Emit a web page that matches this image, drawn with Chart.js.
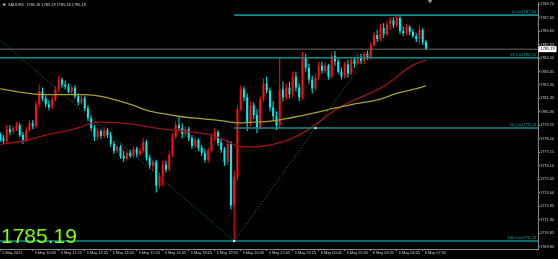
<!DOCTYPE html>
<html><head><meta charset="utf-8">
<script src="https://cdn.jsdelivr.net/npm/chart.js@4.4.0/dist/chart.umd.min.js"></script>
<style>html,body{margin:0;padding:0;background:#000;overflow:hidden}canvas{display:block}</style>
</head><body>
<canvas id="c" width="558" height="259"></canvas>
<script>
// ---- data ----
const symbolText = "XAUUSD  1785.18 1785.19 1785.18 1785.19";
const bidPrice = 1785.19;

const opens = [1778.57,1778.26,1778.03,1778.96,1778.73,1779.03,1779.27,1778.49,1778.11,1778.88,
1779.42,1779.19,1780.89,1781.89,1781.35,1780.89,1780.66,1781.27,1782.05,1782.82,
1782.43,1782.28,1781.89,1782.20,1781.51,1781.04,1781.35,1780.58,1779.81,1779.03,
1778.34,1778.80,1778.42,1778.88,1778.49,1777.80,1777.26,1777.57,1776.87,1776.64,
1777.10,1776.87,1777.41,1777.03,1777.26,1777.95,1776.72,1776.10,1776.41,1774.55,
1775.33,1776.18,1775.79,1776.95,1778.34,1779.27,1779.03,1778.57,1778.96,1778.26,
1777.64,1778.11,1777.49,1777.10,1776.56,1777.26,1778.34,1778.73,1777.88,1777.34,
1776.41,1777.80,1773.01,1775.25,1780.50,1782.05,1781.43,1779.42,1780.81,1780.04,
1779.11,1781.27,1782.51,1781.97,1780.66,1779.96,1779.27,1782.05,1781.43,1782.20,
1781.66,1783.05,1782.20,1781.43,1784.52,1783.75,1782.82,1782.12,1782.97,1783.90,
1783.51,1783.90,1783.05,1784.67,1784.21,1783.44,1783.05,1783.98,1783.28,1784.36,
1784.05,1784.59,1784.29,1784.83,1784.52,1785.52,1786.29,1785.98,1786.83,1786.37,
1787.14,1787.45,1787.06,1787.61,1786.60,1786.45,1786.91,1786.53,1786.22,1785.98,
1786.68,1785.75];
const highs = [1778.73,1778.49,1779.27,1779.27,1779.19,1779.50,1779.42,1778.73,1779.11,1779.65,
1779.65,1781.12,1782.43,1782.20,1781.58,1781.20,1781.51,1782.28,1783.13,1782.97,
1782.74,1782.51,1782.36,1782.36,1781.74,1781.58,1781.51,1780.81,1780.04,1779.27,
1779.03,1778.96,1779.11,1779.03,1778.73,1778.03,1777.72,1777.72,1777.26,1777.26,
1777.34,1777.64,1777.57,1777.49,1778.26,1778.11,1776.95,1776.56,1776.56,1775.56,
1776.49,1776.49,1777.26,1778.65,1779.58,1779.96,1779.42,1779.19,1779.11,1778.49,
1778.34,1778.26,1777.72,1777.41,1777.49,1778.65,1779.03,1778.88,1778.19,1777.57,
1778.11,1778.03,1775.71,1780.81,1782.36,1782.28,1781.74,1781.12,1781.04,1780.50,
1781.51,1782.90,1783.05,1782.20,1781.12,1780.35,1784.59,1782.66,1782.51,1782.66,
1783.44,1783.44,1782.51,1784.98,1784.83,1784.05,1783.13,1783.28,1784.21,1784.21,
1784.13,1784.05,1784.98,1785.06,1784.44,1783.75,1784.21,1784.36,1784.59,1784.59,
1784.83,1784.83,1784.98,1785.06,1785.75,1786.53,1786.68,1787.14,1787.22,1787.37,
1787.68,1787.68,1787.84,1787.76,1786.99,1787.14,1787.06,1786.76,1786.45,1787.06,
1786.83,1785.91];
const lows = [1777.95,1777.80,1777.88,1778.49,1778.57,1778.80,1778.34,1777.80,1777.95,1778.73,
1778.96,1779.03,1780.66,1781.12,1780.66,1780.43,1780.50,1781.12,1781.89,1782.20,
1782.05,1781.74,1781.66,1781.35,1780.81,1780.89,1780.35,1779.58,1778.80,1778.03,
1778.11,1778.19,1778.26,1778.26,1777.57,1777.03,1777.10,1776.64,1776.41,1776.49,
1776.72,1776.72,1776.79,1776.87,1777.10,1776.49,1775.87,1775.71,1774.02,1774.32,
1774.48,1775.56,1775.64,1776.79,1778.19,1778.80,1778.26,1778.42,1778.03,1777.41,
1777.49,1777.26,1776.87,1776.33,1776.33,1777.10,1778.03,1777.64,1777.10,1776.10,
1776.18,1772.70,1770.23,1774.94,1780.35,1781.12,1778.80,1779.19,1779.73,1778.65,
1778.96,1781.12,1781.74,1780.35,1779.58,1778.88,1779.03,1781.12,1781.20,1781.35,
1781.43,1781.89,1781.12,1781.27,1783.44,1782.51,1781.74,1781.97,1782.82,1783.28,
1783.28,1782.82,1782.90,1783.90,1783.28,1782.82,1782.90,1782.97,1783.13,1783.75,
1783.90,1784.05,1784.05,1784.36,1784.36,1785.37,1785.75,1785.83,1786.06,1786.22,
1786.68,1786.83,1786.91,1786.37,1786.22,1786.29,1786.29,1786.06,1785.75,1785.60,
1785.52,1785.14];
const closes = [1778.19,1778.03,1778.96,1778.73,1779.03,1779.27,1778.49,1778.11,1778.88,1779.42,
1779.19,1780.89,1781.89,1781.35,1780.89,1780.66,1781.27,1782.05,1782.82,1782.43,
1782.28,1781.89,1782.20,1781.51,1781.04,1781.35,1780.58,1779.81,1779.03,1778.34,
1778.80,1778.42,1778.88,1778.49,1777.80,1777.26,1777.57,1776.87,1776.64,1777.10,
1776.87,1777.41,1777.03,1777.26,1777.95,1776.72,1776.10,1776.41,1774.55,1775.33,
1776.18,1775.79,1776.95,1778.34,1779.27,1779.03,1778.57,1778.96,1778.26,1777.64,
1778.11,1777.49,1777.10,1776.56,1777.26,1778.34,1778.73,1777.88,1777.34,1776.41,
1777.80,1773.01,1775.25,1780.50,1782.05,1781.43,1779.42,1780.81,1780.04,1779.11,
1781.27,1782.51,1781.97,1780.66,1779.96,1779.27,1782.05,1781.43,1782.20,1781.66,
1783.05,1782.20,1781.43,1784.52,1783.75,1782.82,1782.12,1782.97,1783.90,1783.51,
1783.90,1783.05,1784.67,1784.21,1783.44,1783.05,1783.98,1783.28,1784.36,1784.05,
1784.59,1784.29,1784.83,1784.52,1785.52,1786.29,1785.98,1786.83,1786.37,1787.14,
1787.45,1787.06,1787.61,1786.60,1786.45,1786.91,1786.53,1786.22,1785.98,1786.68,
1785.75,1785.19];

// moving averages (bar index, value)
const maSlowIdx = [0,10,20,26,31,36,41,46,51,55,60,65,70,73,78,83,87,91,96,101,108,113,117,122,127,131];
const maSlowVal = [1782.10,1781.71,1781.64,1781.64,1781.51,1781.20,1780.81,1780.35,1780.12,1779.96,1779.81,1779.69,1779.54,1779.44,1779.50,1779.58,1779.73,1779.92,1780.19,1780.48,1780.87,1781.08,1781.30,1781.74,1782.05,1782.33];
const maFastIdx = [0,7,15,20,24,28,31,36,41,46,51,56,61,65,69,73,77,81,86,90,94,98,101,105,108,113,117,121,124,127,131];
const maFastVal = [1777.77,1778.03,1778.55,1778.80,1779.06,1779.42,1779.50,1779.46,1779.32,1779.11,1778.93,1778.80,1778.67,1778.49,1778.11,1777.64,1777.57,1777.64,1777.90,1778.26,1778.80,1779.50,1780.09,1780.73,1781.12,1781.66,1782.15,1782.82,1783.44,1783.95,1784.34];

// fibonacci objects
const fibLevelNames = ["0.0","23.6","50.0","100.0"];
const fibLevelPrices = [1787.84,1784.52,1779.04,1770.23];
const fibLevelStartIdx = [72,-20,72,-20];
const trend1Idx = [-10,72];   const trend1Val = [1788.05,1770.23];
const trend2Idx = [72,122];   const trend2Val = [1770.23,1787.84];

// axes
const timeTickIdx = [0,10,18,26,34,42,50,58,66,74,82,90,98,106,114,122,130];
const timeTickLabels = ["5 May 2021","5 May 10:05","5 May 11:25","5 May 12:45","5 May 14:05","5 May 15:25","5 May 16:45","5 May 18:05","5 May 19:25","5 May 20:45","5 May 22:05","5 May 23:25","6 May 00:45","6 May 02:05","6 May 03:25","6 May 04:45","6 May 07:05"];
const priceTicks = [1769.80,1770.85,1771.90,1772.95,1774.00,1775.05,1776.10,1777.15,1778.20,1779.25,1780.30,1781.35,1782.40,1783.45,1784.50,1785.55,1786.60,1787.65,1788.70];

// ---- view ----
const X_MIN = -0.06, X_MAX = 165.48;
const Y_MIN = 1769.61, Y_MAX = 1788.84;
const UP = '#ff1010', DOWN = '#00f0f0';
const FIB = '#118c8c';
const SMALL = {family:'Liberation Sans', size:3.9};

function pts(ix, vals){ return ix.map((v,i)=>({x:v,y:vals[i]})); }

const datasets = [];
datasets.push({data:pts(trend1Idx,trend1Val),borderColor:'#1d8a66',borderWidth:1,borderDash:[1,2],pointRadius:0,order:1});
datasets.push({data:pts(trend2Idx,trend2Val),borderColor:'#1d8a66',borderWidth:1,borderDash:[1,2],pointRadius:0,order:1});
fibLevelPrices.forEach((p,k)=>{
  datasets.push({data:[{x:fibLevelStartIdx[k],y:p},{x:X_MAX+5,y:p}],borderColor:FIB,borderWidth:1.6,pointRadius:0,order:2});
});
datasets.push({data:[{x:X_MIN-5,y:bidPrice},{x:X_MAX+5,y:bidPrice}],borderColor:'#6a6a6a',borderWidth:1,pointRadius:0,order:3});
datasets.push({data:pts(maSlowIdx,maSlowVal),borderColor:'#a3a12c',borderWidth:1.3,pointRadius:0,cubicInterpolationMode:'monotone',order:2});
datasets.push({data:pts(maFastIdx,maFastVal),borderColor:'#9c1414',borderWidth:1.3,pointRadius:0,cubicInterpolationMode:'monotone',order:2});

const bgPlugin = {id:'bg', beforeDraw(c){const g=c.ctx; g.save(); g.fillStyle='#000'; g.fillRect(0,0,c.width,c.height); g.restore();}};

const candlePlugin = {
  id:'candles',
  beforeDatasetsDraw(c){
    const g=c.ctx, a=c.chartArea, x=c.scales.x, y=c.scales.y;
    g.save(); g.beginPath(); g.rect(a.left,a.top,a.right-a.left,a.bottom-a.top); g.clip();
    for(let i=0;i<opens.length;i++){
      const px = x.getPixelForValue(i);
      const col = closes[i] >= opens[i] ? UP : DOWN;
      g.fillStyle = col;
      const yh=y.getPixelForValue(highs[i]), yl=y.getPixelForValue(lows[i]);
      g.fillRect(px-0.5, yh, 1, yl-yh);
      const yo=y.getPixelForValue(opens[i]), yc=y.getPixelForValue(closes[i]);
      const top=Math.min(yo,yc), h=Math.max(1,Math.abs(yo-yc));
      g.fillRect(px-1, top, 2, h);
    }
    g.restore();
  }
};

const overlayPlugin = {
  id:'overlay',
  afterDraw(c){
    const g=c.ctx, a=c.chartArea, x=c.scales.x, y=c.scales.y;
    g.save();
    // fib labels
    g.font = '4.1px "Liberation Sans"'; g.fillStyle = '#1aa0a0'; g.textAlign='right'; g.textBaseline='bottom';
    fibLevelPrices.forEach((p,k)=>{
      g.fillText(fibLevelNames[k]+' ='+p.toFixed(2), a.right-2, y.getPixelForValue(p)-0.8);
    });
    // anchor points of the second fibo
    g.fillStyle='#ffffff';
    const bx=x.getPixelForValue(trend2Idx[0]), byy=y.getPixelForValue(trend2Val[0]);
    g.fillRect(bx-1, byy-1, 2, 2);
    const mx=x.getPixelForValue((trend2Idx[0]+trend2Idx[1])/2), my=y.getPixelForValue((trend2Val[0]+trend2Val[1])/2);
    g.fillRect(mx-1, my-1, 2, 2);
    // chart shift marker
    g.fillStyle='#8a8a8a';
    g.beginPath(); g.moveTo(427.5,0); g.lineTo(432.5,0); g.lineTo(430,3.5); g.closePath(); g.fill();
    // symbol text
    g.fillStyle='#bdbdbd'; g.fillRect(3,3.5,2.5,2);
    g.font='3.9px "Liberation Sans"'; g.fillStyle='#d8d8d8'; g.textAlign='left'; g.textBaseline='middle';
    g.fillText(symbolText, 8, 4.8);
    // bid box on price axis
    const yb=y.getPixelForValue(bidPrice);
    g.fillStyle='#ffffff'; g.fillRect(a.right+0.5, yb-3, 18, 6);
    g.fillStyle='#000000'; g.font='3.9px "Liberation Sans"'; g.textAlign='left'; g.textBaseline='middle';
    g.fillText(bidPrice.toFixed(2), a.right+2.5, yb+0.2);
    // big price text
    g.font='21px "Liberation Sans"'; g.fillStyle='#7fff00'; g.textAlign='left'; g.textBaseline='alphabetic';
    g.fillText(bidPrice.toFixed(2), 1, 242.5);
    g.restore();
  }
};

Chart.defaults.font.family = 'Liberation Sans';
new Chart(document.getElementById('c'), {
  type:'line',
  data:{datasets},
  options:{
    responsive:false, animation:false, events:[],
    layout:{padding:0},
    plugins:{legend:{display:false}, tooltip:{enabled:false}},
    scales:{
      x:{type:'linear', min:X_MIN, max:X_MAX, position:'bottom',
        afterFit:s=>{s.height=10;},
        afterBuildTicks:s=>{s.ticks=timeTickIdx.map(v=>({value:v}));},
        ticks:{autoSkip:false, maxRotation:0, minRotation:0, align:'start', labelOffset:2, padding:0,
          font:SMALL, color:'#c8c8c8', callback:(v,i)=>timeTickLabels[i]},
        grid:{display:true, drawOnChartArea:false, drawTicks:true, tickLength:2, color:'#8a8a8a', lineWidth:1},
        border:{display:true, color:'#8a8a8a', width:1}},
      y:{type:'linear', min:Y_MIN, max:Y_MAX, position:'right',
        afterFit:s=>{s.width=20;},
        afterBuildTicks:s=>{s.ticks=priceTicks.map(v=>({value:v}));},
        ticks:{padding:0, font:SMALL, color:'#c8c8c8', callback:v=>Number(v).toFixed(2)},
        grid:{display:true, drawOnChartArea:false, drawTicks:true, tickLength:2, color:'#8a8a8a', lineWidth:1},
        border:{display:true, color:'#8a8a8a', width:1}}
    }
  },
  plugins:[bgPlugin, candlePlugin, overlayPlugin]
});
</script></body></html>
